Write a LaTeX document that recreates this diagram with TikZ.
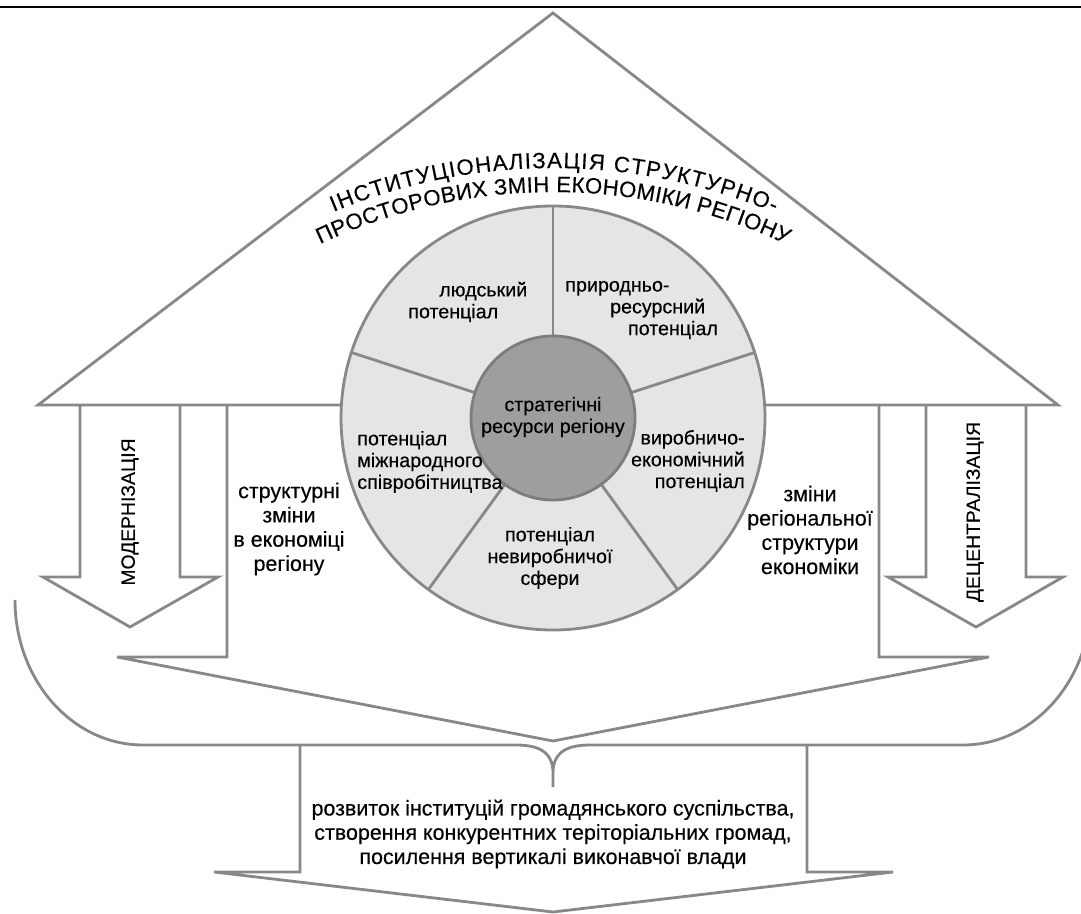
\documentclass[tikz,border=0pt]{standalone}
\usepackage{fontspec}
\setmainfont{Liberation Sans}[FakeBold=0.3]
\usetikzlibrary{decorations.text,calc}
\definecolor{lg}{RGB}{136,136,136}
\definecolor{ringc}{RGB}{229,229,229}
\definecolor{corec}{RGB}{158,158,158}
\definecolor{corel}{RGB}{125,125,125}
\newcommand{\titlefont}{\fontsize{12.6pt}{14pt}\selectfont}
\begin{document}
\begin{tikzpicture}[x=0.02cm,y=0.02cm,
  ln/.style={draw=lg,line width=1.6pt,line join=miter},
  body/.style={font=\fontsize{12.2pt}{13.8pt}\selectfont,align=center,inner sep=0pt,text=black},
  inring/.style={font=\fontsize{11.2pt}{12.4pt}\selectfont,inner sep=0pt,text=black},
  vert/.style={font=\fontsize{11pt}{13pt}\selectfont,rotate=90,inner sep=0pt,text=black}]
\useasboundingbox (0,0) rectangle (1081,913);
\clip (0,0) rectangle (1081,913);
% top rule
\coordinate (tl) at (0,906);
\coordinate (tr) at (1081,906);
\draw[black,line width=1.2pt] (tl) -- (tr);
% roof
\coordinate (A) at (553,900);
\coordinate (L) at (38,508);
\coordinate (R) at (1058,508);
\draw[ln] (L) -- (A) -- (R) -- cycle;
% big body arrow
\draw[ln] (227,508) -- (227,256) -- (117,256) -- (553,172) -- (989,256) -- (879,256) -- (879,508);
% small arrows
\draw[ln] (80,508) -- (80,336) -- (43,336) -- (130,286) -- (218,336) -- (180,336) -- (180,508);
\draw[ln] (926,508) -- (926,336) -- (888,336) -- (976,286) -- (1063,336) -- (1026,336) -- (1026,508);
% brace
\draw[ln] (15,313) arc[start angle=180,end angle=270,x radius=128,y radius=145]
  -- (516,168) .. controls (543,168) and (553,158) .. (553,140) -- (553,126)
  -- (553,140) .. controls (553,158) and (563,168) .. (590,168)
  -- (963,168) arc[start angle=270,end angle=360,x radius=128,y radius=145];
% bottom arrow
\draw[ln] (300,168) -- (300,41) -- (214,41) -- (553,1) -- (893,41) -- (807,41) -- (807,168);
% circle
\coordinate (O) at (553,495);
\draw[ln,fill=ringc] (O) circle[radius=212];
\foreach \a in {18,90,162,234,306}
  \draw[ln] (O) -- ($(O)+(\a:212)$);
\draw[draw=corel,line width=1.6pt,fill=corec] (O) circle[radius=82];
% title on arcs
\coordinate (T) at (553,174);
\path[decorate,decoration={text along path,text align=fit to path,
  text={|\titlefont|ІНСТИТУЦІОНАЛІЗАЦІЯ СТРУКТУРНО-}}]
  ($(T)+(112.6:571)$) arc[start angle=112.6,end angle=67.2,radius=571];
\path[decorate,decoration={text along path,text align=fit to path,
  text={|\titlefont|ПРОСТОРОВИХ ЗМІН ЕКОНОМІКИ РЕГІОНУ}}]
  ($(T)+(115.2:547)$) arc[start angle=115.2,end angle=64.8,radius=547];
% ring labels
\node[inring,align=left,anchor=west] (hum) at (408,611) {\hspace*{17.6pt}людський\\потенціал};
\node[inring,align=left,anchor=west] (nat) at (565,603) {природньо-\\\hspace*{25.5pt}ресурсний\\\hspace*{35.7pt}потенціал};
\node[inring,align=center] (core) at (553,496) {стратегічні\\ресурси регіону};
\node[inring,align=left,anchor=west] (intl) at (357,451) {потенціал\\міжнародного\\співробітництва};
\node[inring,align=right,anchor=east] (prod) at (745,452) {виробничо-\\економічний\\потенціал};
\node[inring,align=center] (nonp) at (550,355) {потенціал\\невиробничої\\сфери};
% side texts
\node[vert] (mod) at (130,401) {МОДЕРНІЗАЦІЯ};
\node[vert] (dec) at (975,401) {ДЕЦЕНТРАЛІЗАЦІЯ};
\node[body] (str) at (289,384) {структурні\\зміни\\в економіці\\регіону};
\node[body] (reg) at (810,383) {зміни\\регіональної\\структури\\економіки};
% bottom text
\node[body] (res) at (553,79) {розвиток інституцій громадянського суспільства,\\створення конкурентних теріторіальних громад,\\посилення вертикалі виконавчої влади};
\end{tikzpicture}
\end{document}
